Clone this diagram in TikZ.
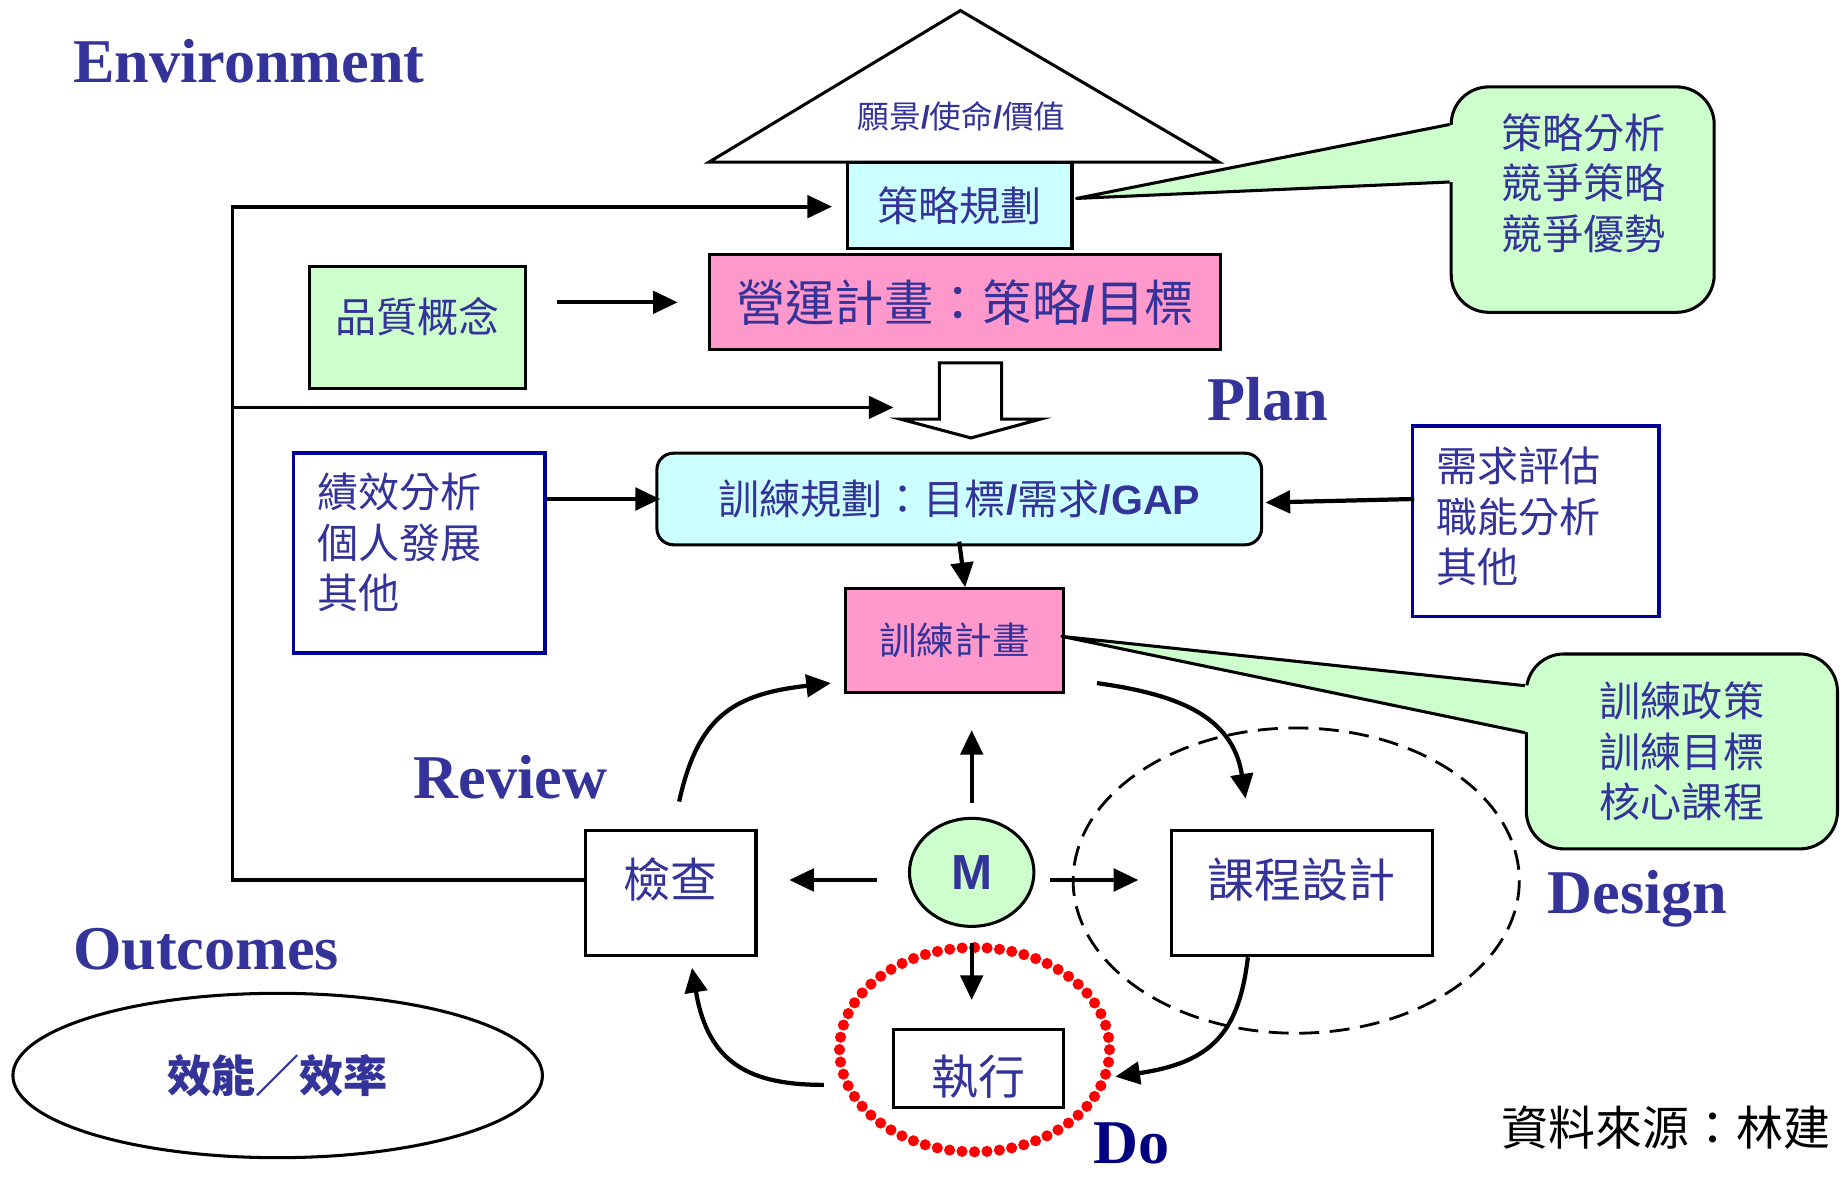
\documentclass[tikz,border=0pt]{standalone}
\usepackage{fontspec}
\setmainfont{Liberation Serif}
\newfontfamily\cjk{Noto Sans CJK TC}
\newfontfamily\sansfam{Liberation Sans}
\newcommand{\lat}[1]{{\sansfam\bfseries #1}}
\usetikzlibrary{arrows.meta,positioning,calc,shapes.geometric}
\definecolor{ink}{HTML}{333399}
\definecolor{navyink}{HTML}{000080}
\definecolor{boxnavy}{HTML}{000099}
\definecolor{skyfill}{HTML}{CCFFFF}
\definecolor{pinkfill}{HTML}{FF99CC}
\definecolor{mintfill}{HTML}{CCFFCC}
\tikzset{
  >={Triangle[length=21pt,width=19pt]},
  title/.style={font=\fontsize{53}{60}\selectfont\bfseries, text=ink, inner sep=0pt, anchor=base west},
  zh/.style={font=\cjk\fontsize{35}{43}\selectfont, text=ink},
  zhbig/.style={font=\cjk\fontsize{40}{48}\selectfont, text=ink},
  box/.style={draw=black, line width=2.6pt, inner sep=0pt, align=center},
  skybox/.style={box, fill=skyfill},
  pinkbox/.style={box, fill=pinkfill},
  mintbox/.style={box, fill=mintfill},
  listbox/.style={draw=boxnavy, line width=3pt, fill=white, inner sep=0pt},
  callout/.style={draw=black, line width=2.6pt, fill=mintfill, rounded corners=32pt, inner sep=0pt, align=left},
  pointer/.style={line width=2.6pt, line join=round},
  arrow/.style={->, line width=3.6pt},
  envline/.style={line width=3.2pt}
}
\begin{document}
\begin{tikzpicture}[x=1pt,y=-1pt]
  \useasboundingbox (0,0) rectangle (1568,1004);

  % Plan: vision, strategy, operation
  \draw[line width=2.6pt, fill=white] (604,138) -- (818,9) -- (1038,138) -- cycle;
  \node[zh, font=\cjk\fontsize{27}{30}\selectfont] (vision) at (819,99) {願景\lat{/}使命\lat{/}價值};
  \node[skybox, minimum width=191pt, minimum height=74pt, zh] (strat) at (817.5,175) {策略規劃};
  \node[pinkbox, minimum width=435pt, minimum height=81pt, zh, font=\cjk\fontsize{42}{50}\selectfont] (oper) at (822,257.5) {營運計畫：策略\lat{/}目標};
  \node[mintbox, minimum width=184pt, minimum height=104pt, zh, text depth=22pt] (qual) at (355.5,279) {品質概念};
  \draw[line width=2.6pt, fill=white] (800,309) -- (853,309) -- (853,357) -- (886,357) -- (827,373) -- (767,357) -- (800,357) -- cycle;
  \coordinate (down) at (761,347);

  \node[skybox, rounded corners=14pt, minimum width=515pt, minimum height=78pt, zh] (tp) at (817,425) {訓練規劃：目標\lat{/}需求\lat{/GAP}};
  \node[listbox, minimum width=214pt, minimum height=170pt] (perf) at (357,471) {};
  \node[zh, align=left, anchor=west, inner sep=0pt] (perftxt) at (270,462) {績效分析\\個人發展\\其他};
  \node[listbox, minimum width=210pt, minimum height=162pt] (need) at (1308,444) {};
  \node[zh, align=left, anchor=west, inner sep=0pt] (needtxt) at (1223,440) {需求評估\\職能分析\\其他};
  \node[pinkbox, minimum width=186pt, minimum height=88pt, zh, font=\cjk\fontsize{32}{36}\selectfont] (tpl) at (813,545.5) {訓練計畫};

  % Callouts
  \node[callout, minimum width=224pt, minimum height=192pt] (c1) at (1348,170) {};
  \node[zh, align=left, inner sep=0pt] (c1txt) at (1349,156) {策略分析\\競爭策略\\競爭優勢};
  \coordinate (c1tip) at ($(strat.east)+(2.5,-6)$);
  \fill[mintfill] (c1tip) -- ($(c1.west)+(4,-64)$) -- ($(c1.west)+(4,-15)$) -- cycle;
  \draw[pointer] ($(c1.west)+(0,-64)$) -- (c1tip) -- ($(c1.west)+(0,-15)$);

  \node[callout, minimum width=265pt, minimum height=166pt, zh] (c2) at (1432.5,640) {訓練政策\\訓練目標\\核心課程};
  \coordinate (c2tip) at ($(tpl.east)+(-3,-3.5)$);
  \fill[mintfill] (c2tip) -- ($(c2.west)+(4,-56)$) -- ($(c2.west)+(4,-16)$) -- cycle;
  \draw[pointer] ($(c2.west)+(0,-56)$) -- (c2tip) -- ($(c2.west)+(0,-16)$);

  % PDCA cycle round M
  \draw[red, line width=9.5pt, line cap=round, dash pattern=on 0pt off 10.63pt] (830,894) ellipse [x radius=115, y radius=87];
  \draw[line width=2.4pt, dash pattern=on 17pt off 9pt] (1104,750) ellipse [x radius=190, y radius=130];
  \node[draw, ellipse, line width=2.6pt, fill=mintfill, minimum width=106pt, minimum height=92pt, inner sep=0pt,
        font=\sansfam\bfseries\fontsize{42}{48}\selectfont, text=ink] (mm) at (827.6,743) {M};
  \node[box, minimum width=145pt, minimum height=106.5pt, zhbig, text depth=27pt] (chk) at (571.4,760.75) {檢查};
  \node[box, minimum width=222pt, minimum height=106.5pt, zhbig, text depth=27pt] (design) at (1108.85,760.75) {課程設計};
  \node[box, minimum width=145pt, minimum height=67pt, zhbig, text height=48pt] (do) at (833.5,910) {執行};

  % Outcomes
  \node[draw, ellipse, line width=2.6pt, minimum width=451pt, minimum height=140pt, inner sep=0pt,
        font=\cjk\bfseries\fontsize{37.6}{40}\selectfont, text=ink] (eff) at (236.5,916) {效能／效率};

  % Labels
  \node[title] (envlab) at (62,70) {Environment};
  \node[title] (planlab) at (1028,358) {Plan};
  \node[title] (reviewlab) at (352,680) {Review};
  \node[title] (outlab) at (62,826) {Outcomes};
  \node[title] (designlab) at (1318,778) {Design};
  \node[title, text=navyink] (dolab) at (931,991) {Do};
  \node[font=\cjk\fontsize{40}{44}\selectfont, anchor=west, inner sep=0pt] (src) at (1279,960) {資料來源：林建};

  % Environment feedback lines
  \coordinate (envtop) at (198,176);
  \coordinate (envmid) at (198,347);
  \coordinate (envbot) at (198,749.5);
  \draw[envline,->] ($(chk.west)+(0,-11.25)$) -- (envbot) -- (envtop) -- ($(strat.west)+(-12,1)$);
  \draw[envline,->] (envmid) -- (down);

  % Straight arrows
  \draw[arrow] ($(qual.east |- oper.west)+(26,0)$) -- ($(oper.west)+(-26,0)$);
  \draw[arrow] (perf.east |- tp.west) -- ($(tp.west)+(4,0)$);
  \draw[arrow] ($(need.west)+(3,-19)$) -- ($(tp.east)+(2,3)$);
  \draw[arrow] ($(tp.south)+(0,-4)$) -- ($(tpl.north)+(9,0)$);
  \draw[arrow] ($(mm.north)+(0,-12)$) -- ($(tpl.south -| mm.north)+(0,31)$);
  \draw[arrow] ($(mm.west)+(-26,6.5)$) -- ($(chk.east)+(27,-11.25)$);
  \draw[arrow] ($(mm.east)+(12.5,6.5)$) -- ($(design.west)+(-27,-11.25)$);
  \draw[arrow] ($(mm.south)+(0,13)$) -- ($(mm.south |- do.north)+(0,-23.5)$);

  % Curved arrows
  \draw[arrow] ($(chk.north)+(7,-23.5)$) .. controls +(16,-72) and +(-84,9.4) .. ($(tpl.south west)+(-11,-9)$);
  \draw[arrow] ($(tpl.south east)+(27,-9)$) .. controls +(67,9.4) and +(-11,-71.4) .. ($(design.north)+(-48,-26)$);
  \draw[arrow] ($(design.south)+(-46,0)$) .. controls +(-7.8,65.2) and +(81.4,-12) .. ($(do.east)+(42.6,7)$);
  \draw[arrow] ($(do.west)+(-58,14)$) .. controls +(-62.8,0) and +(13.6,81.7) .. ($(chk.south)+(18,9)$);
\end{tikzpicture}
\end{document}
